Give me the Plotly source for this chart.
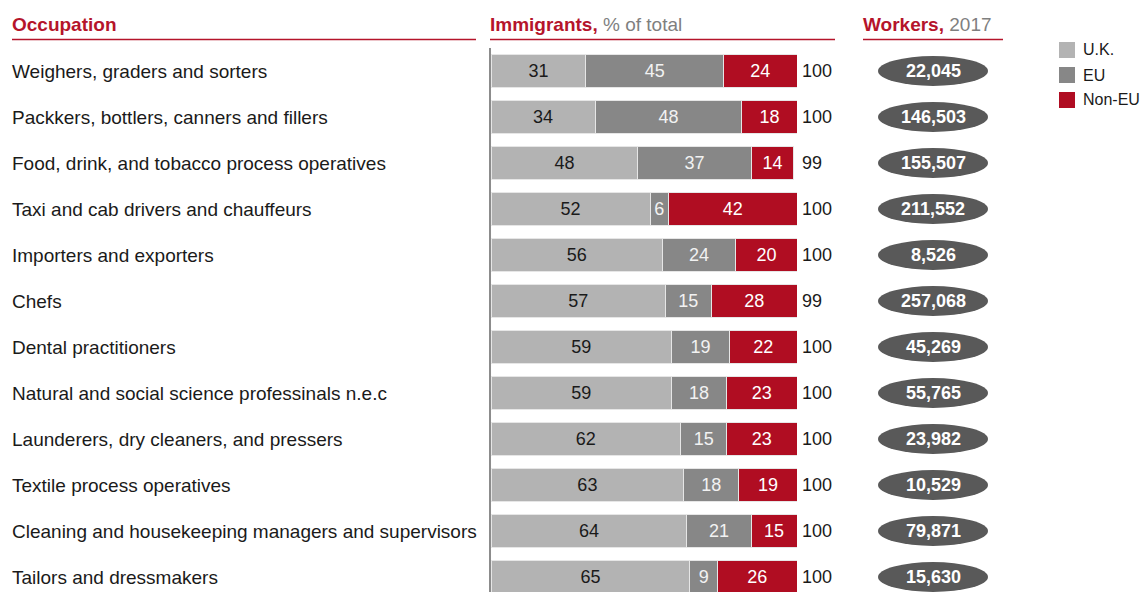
import plotly.graph_objects as go

# --- data ---------------------------------------------------------------
occupations = [
    "Weighers, graders and sorters",
    "Packkers, bottlers, canners and fillers",
    "Food, drink, and tobacco process operatives",
    "Taxi and cab drivers and chauffeurs",
    "Importers and exporters",
    "Chefs",
    "Dental practitioners",
    "Natural and social science professinals n.e.c",
    "Launderers, dry cleaners, and pressers",
    "Textile process operatives",
    "Cleaning and housekeeping managers and supervisors",
    "Tailors and dressmakers",
]
uk = [31, 34, 48, 52, 56, 57, 59, 59, 62, 63, 64, 65]
eu = [45, 48, 37, 6, 24, 15, 19, 18, 15, 18, 21, 9]
non_eu = [24, 18, 14, 42, 20, 28, 22, 23, 23, 19, 15, 26]
totals = [100, 100, 99, 100, 100, 99, 100, 100, 100, 100, 100, 100]
workers = ["22,045", "146,503", "155,507", "211,552", "8,526", "257,068",
           "45,269", "55,765", "23,982", "10,529", "79,871", "15,630"]

series = [
    ("U.K.", uk, "#b3b3b3", "#1a1a1a"),
    ("EU", eu, "#878787", "#f2f2f2"),
    ("Non-EU", non_eu, "#b00d22", "#ffffff"),
]

# --- geometry (pixels) --------------------------------------------------
W, H = 1140, 592
ROW0, ROWSTEP = 71, 46
BAR_X0, BAR_X1 = 491, 797
RED = "#b5142b"
FONT = "Liberation Sans, Arial, sans-serif"

def px(x):
    return x / W

def py(y):
    return 1 - y / H

rows = list(range(len(occupations)))
y_top = (0 - ROW0) / ROWSTEP
y_bot = (H - ROW0) / ROWSTEP

fig = go.Figure()
for name, vals, color, tcolor in series:
    fig.add_trace(go.Bar(
        y=rows, x=vals, name=name, orientation="h",
        marker=dict(color=color, line=dict(color="#e6e6e6", width=1)),
        text=vals, texttemplate="%{text}",
        textposition="inside", insidetextanchor="middle",
        constraintext="none",
        textfont=dict(family=FONT, size=18, color=tcolor),
        showlegend=False, hoverinfo="skip",
    ))

annotations = []
shapes = []

# Column headers with red underlines
headers = [
    (12, 476, "<b>Occupation</b>"),
    (490, 835, "<b>Immigrants,</b> <span style='color:#7f7f7f'>% of total</span>"),
    (863, 1003, "<b>Workers,</b> <span style='color:#7f7f7f'>2017</span>"),
]
for x0, x1, txt in headers:
    annotations.append(dict(
        x=px(x0 - 2), y=py(25), xref="paper", yref="paper", text=txt,
        xanchor="left", yanchor="middle", showarrow=False,
        font=dict(family=FONT, size=19, color=RED),
    ))
    shapes.append(dict(type="line", xref="paper", yref="paper",
                       x0=px(x0), x1=px(x1), y0=py(39.5), y1=py(39.5),
                       line=dict(color=RED, width=1.5)))

# Vertical baseline of the bar chart
shapes.append(dict(type="line", xref="paper", yref="paper",
                   x0=px(490), x1=px(490), y0=py(48), y1=0,
                   line=dict(color="#8c8c8c", width=2)))

for i in rows:
    # occupation label
    annotations.append(dict(
        x=px(10), y=i, xref="paper", yref="y", text=occupations[i],
        xanchor="left", yanchor="middle", showarrow=False,
        font=dict(family=FONT, size=19, color="#1a1a1a"),
    ))
    # total label
    annotations.append(dict(
        x=100, y=i, xref="x", yref="y", text=str(totals[i]),
        xanchor="left", yanchor="middle", showarrow=False, xshift=3,
        font=dict(family=FONT, size=18, color="#1a1a1a"),
    ))
    # workers pill
    shapes.append(dict(type="circle", xref="paper", yref="y",
                       x0=px(878), x1=px(988),
                       y0=i - 15 / ROWSTEP, y1=i + 15 / ROWSTEP,
                       fillcolor="#595959", line=dict(width=0), layer="above"))
    annotations.append(dict(
        x=px(933), y=i, xref="paper", yref="y", text=f"<b>{workers[i]}</b>",
        xanchor="center", yanchor="middle", showarrow=False,
        font=dict(family=FONT, size=18, color="#ffffff"),
    ))

# Legend
for k, (name, _, color, _) in enumerate(series):
    cy = 50 + 25 * k
    shapes.append(dict(type="rect", xref="paper", yref="paper",
                       x0=px(1059), x1=px(1075), y0=py(cy - 8), y1=py(cy + 8),
                       fillcolor=color, line=dict(width=0)))
    annotations.append(dict(
        x=px(1081), y=py(cy), xref="paper", yref="paper", text=name,
        xanchor="left", yanchor="middle", showarrow=False,
        font=dict(family=FONT, size=16, color="#1a1a1a"),
    ))

fig.update_layout(
    width=W, height=H, barmode="stack", bargap=0.3,
    margin=dict(l=0, r=0, t=0, b=0),
    paper_bgcolor="white", plot_bgcolor="white",
    xaxis=dict(domain=[px(BAR_X0), px(BAR_X1)], range=[0, 100],
               visible=False, fixedrange=True),
    yaxis=dict(domain=[0, 1], range=[y_bot, y_top], visible=False,
               fixedrange=True),
    annotations=annotations, shapes=shapes,
    font=dict(family=FONT),
)

fig.write_html("out.html", config={"displayModeBar": False})
